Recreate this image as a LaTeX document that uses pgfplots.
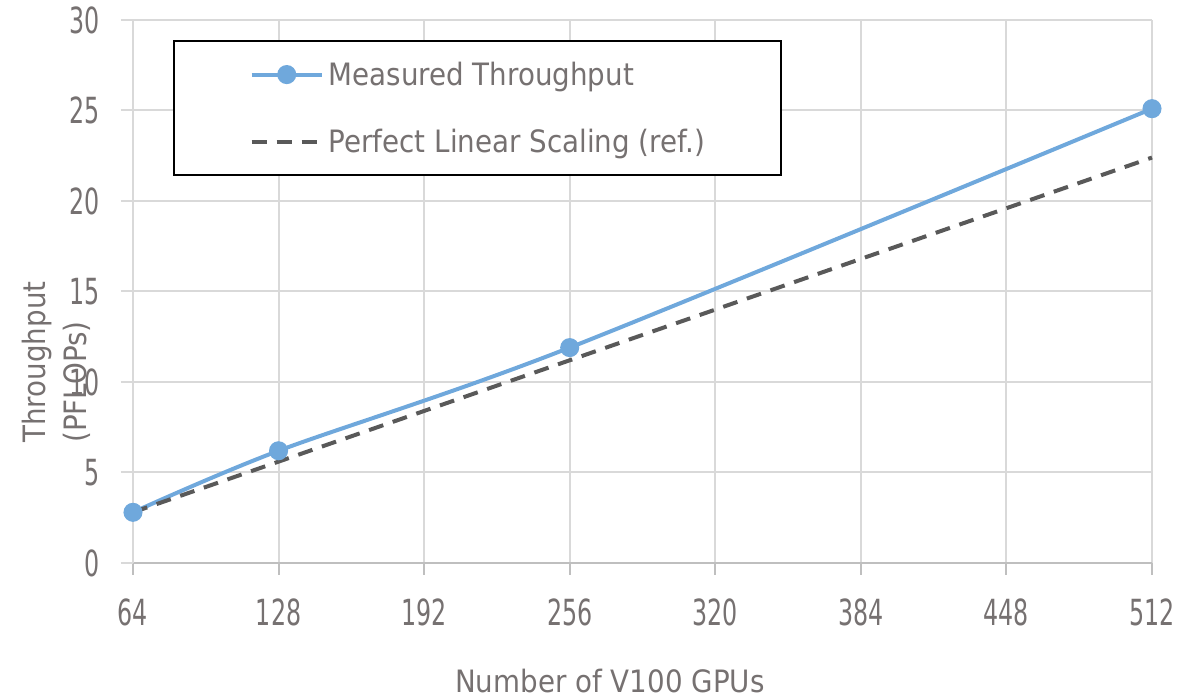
\documentclass[border=0pt]{standalone}
\usepackage{pgfplots}
\pgfplotsset{compat=1.18}
\usepackage{fontspec}
\setmainfont[FakeStretch=0.9]{DejaVu Sans}
\newfontfamily\tickfont[FakeStretch=0.66]{DejaVu Sans}
\definecolor{txt}{HTML}{767171}
\definecolor{gridc}{HTML}{D9D9D9}
\definecolor{axc}{HTML}{BFBFBF}
\definecolor{blueline}{HTML}{6FA8DC}
\definecolor{dashc}{HTML}{595959}
\begin{document}
\begin{tikzpicture}
\useasboundingbox (-66.5pt,-68pt) rectangle (525pt,281.5pt);
\begin{axis}[
  at={(0,0)}, anchor=south west,
  scale only axis, width=509.5pt, height=271.5pt,
  xmin=64, xmax=512, ymin=0, ymax=30,
  xtick={64,128,...,512}, ytick={0,5,...,30},
  grid=major, major grid style={gridc, line width=1pt},
  axis x line*=bottom, axis y line*=left,
  x axis line style={axc, line width=1pt, -},
  y axis line style={gridc, line width=1pt, -},
  tick align=outside, major tick length=6pt,
  xtick style={axc, line width=1pt},
  ytick style={gridc, line width=1pt},
  /pgf/number format/assume math mode=true,
  ticklabel style={font=\tickfont\fontsize{18}{20}\selectfont, text=txt},
  xticklabel style={yshift=-8.5pt},
  yticklabel style={xshift=-7pt},
  clip=false,
  every axis y label/.style={at={(axis description cs:-0.109,0.221)}, anchor=north west, rotate=90, align=left, inner sep=0pt, font=\fontsize{15.4}{20.5}\selectfont, text=txt},
  every axis x label/.style={at={(axis description cs:0.468,-0.217)}, anchor=center, inner sep=0pt, font=\fontsize{15.4}{18}\selectfont, text=txt},
  ylabel={Throughput\\(PFLOPs)},
  xlabel={Number of V100 GPUs},
  legend style={at={(axis description cs:0.039,0.963)}, anchor=north west, draw=black, line width=1pt, fill=white, inner xsep=38pt, inner ysep=9pt, row sep=18pt, column sep=2.5pt, font=\fontsize{15.4}{18}\selectfont, text=txt, nodes={inner sep=0pt, text height=\dimexpr0.75em+5.5pt\relax, text depth=0.25em, anchor=west}},
  legend cell align=left,
  legend image code/.code={\draw[mark repeat=2,mark phase=2,#1] plot coordinates {(0pt,0pt) (17.5pt,0pt) (35pt,0pt)};},
]
\addplot[blueline, line width=2pt, smooth, mark=*, mark size=3.75pt, mark options={fill=blueline, draw=none}] coordinates {(64,2.8) (128,6.2) (256,11.9) (512,25.1)};
\addlegendentry{Measured Throughput}
\addplot[dashc, line width=2pt, dash pattern=on 7.5pt off 5pt] coordinates {(64,2.8) (128,5.6) (256,11.2) (512,22.4)};
\addlegendentry{Perfect Linear Scaling (ref.)}
\end{axis}
\end{tikzpicture}
\end{document}
